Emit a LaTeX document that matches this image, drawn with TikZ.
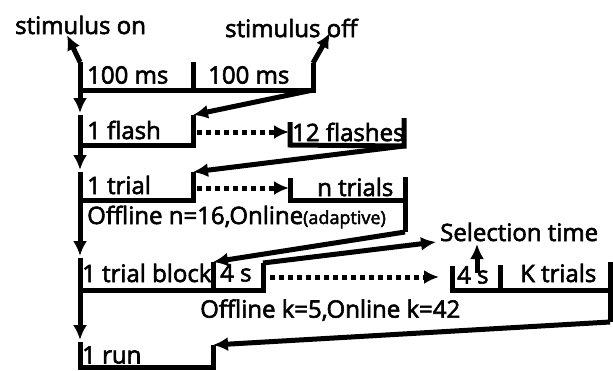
\documentclass[tikz,border=0pt]{standalone}
\usepackage{fontspec}
\setmainfont{Open Sans}[FakeBold=2.5]
\usetikzlibrary{arrows.meta, positioning}
\tikzset{
  lbl/.style = {anchor=west, inner sep=0pt, font=\fontsize{24}{27}\selectfont},
  edge/.style = {line width=5pt, line cap=butt, line join=miter},
  myarrow/.style = {edge, -{Latex[length=15pt,width=14pt]}},
  dotarrow/.style = {myarrow, dash pattern=on 5pt off 4pt},
}

\begin{document}
\begin{tikzpicture}[x=1pt, y=-1pt]
    \useasboundingbox (0,0) rectangle (613,370);

    % texts
    \node[lbl] (stimon)  at (15,25)  {stimulus on};
    \node[lbl] (stimoff) at (225,28) {stimulus off};
    \node[lbl] (onms)    at (87,75)  {100 ms};
    \node[lbl] (offms)   at (208,75) {100 ms};
    \node[lbl] (flash)   at (87,130) {1 flash};
    \node[lbl] (flashes) at (292,132) {12 flashes};
    \node[lbl] (trial)   at (87,185) {1 trial};
    \node[lbl] (trials)  at (317,187) {n trials};
    \node[lbl] (ntext)   at (87,217) {Offline n=16,Online{\fontsize{18}{20}\selectfont(adaptive)}};
    \node[lbl] (seltime) at (440,232) {Selection time};
    \node[lbl] (block)   at (82,273) {1 trial block};
    \node[lbl] (waitA)   at (220,273) {4 s};
    \node[lbl] (waitB)   at (457,275) {4 s};
    \node[lbl] (ktrials) at (520,273) {K trials};
    \node[lbl] (ktext)   at (200,310) {Offline k=5,Online k=42};
    \node[lbl] (run)     at (82,355) {1 run};

    % corners of the time bars
    \coordinate (s0) at (80,62);   \coordinate (s1) at (80,90);
    \coordinate (sm) at (193,62);  \coordinate (smb) at (193,90);
    \coordinate (s2) at (313,63);  \coordinate (s3) at (313,90);
    \coordinate (onTip) at (67,35);  \coordinate (offTip) at (330,33);

    \coordinate (f0) at (80,115);  \coordinate (f1) at (80,145);
    \coordinate (f2) at (193,115); \coordinate (f3) at (193,145);
    \coordinate (fd0) at (197,132); \coordinate (fd1) at (289,132);
    \coordinate (g0) at (290,122); \coordinate (g1) at (290,145);
    \coordinate (g2) at (404,118); \coordinate (g3) at (404,146);

    \coordinate (t0) at (80,172);  \coordinate (t1) at (80,200);
    \coordinate (t2) at (193,172); \coordinate (t3) at (193,200);
    \coordinate (td0) at (197,188); \coordinate (td1) at (289,188);
    \coordinate (n0) at (290,178); \coordinate (n1) at (290,200);
    \coordinate (n2) at (405,177); \coordinate (n3) at (405,200);
    \coordinate (n4) at (405,232);

    \coordinate (b0) at (80,258);  \coordinate (b1) at (80,290);
    \coordinate (bm) at (213,262); \coordinate (bmb) at (213,290);
    \coordinate (b2) at (263,263); \coordinate (b3) at (263,290);
    \coordinate (bd0) at (270,277); \coordinate (bd1) at (439,277);
    \coordinate (selTip) at (436,242);

    \coordinate (k0) at (452,266); \coordinate (k1) at (452,290);
    \coordinate (km) at (500,265); \coordinate (kmb) at (500,290);
    \coordinate (k2) at (610,262); \coordinate (k3) at (610,290);
    \coordinate (k4) at (610,322);
    \coordinate (ku0) at (477,273); \coordinate (ku1) at (477,244);

    \coordinate (r0) at (80,342);  \coordinate (r1) at (80,367);
    \coordinate (r2) at (213,345); \coordinate (r3) at (213,367);

    % bars
    \draw[edge] (s0) -- (s1) -- (s3) -- (s2);
    \draw[edge] (sm) -- (smb);
    \draw[edge] (f0) -- (f1) -- (f3) -- (f2);
    \draw[edge] (g0) -- (g1) -- (g3) -- (g2);
    \draw[edge] (t0) -- (t1) -- (t3) -- (t2);
    \draw[edge] (n0) -- (n1) -- (n3);
    \draw[edge] (n2) -- (n4);
    \draw[edge] (b0) -- (b1) -- (b3) -- (b2);
    \draw[edge] (bm) -- (bmb);
    \draw[edge] (k0) -- (k1) -- (k3);
    \draw[edge] (km) -- (kmb);
    \draw[edge] (k2) -- (k4);
    \draw[edge] (r0) -- (r1) -- (r3) -- (r2);

    % arrows
    \draw[myarrow] (s0) -- (onTip);
    \draw[myarrow] (s2) -- (offTip);
    \draw[myarrow, shorten >=2pt] (s1) -- (f0);
    \draw[myarrow, shorten >=2pt] (f1) -- (t0);
    \draw[myarrow, shorten >=2pt] (t1) -- (b0);
    \draw[myarrow, shorten >=2pt] (b1) -- (r0);
    \draw[myarrow] (s3) -- (f2);
    \draw[myarrow] (g3) -- (t2);
    \draw[myarrow] (n4) -- (bm);
    \draw[myarrow] (k4) -- (r2);
    \draw[myarrow] (b2) -- (selTip);
    \draw[myarrow] (ku0) -- (ku1);
    \draw[dotarrow] (fd0) -- (fd1);
    \draw[dotarrow] (td0) -- (td1);
    \draw[dotarrow] (bd0) -- (bd1);
\end{tikzpicture}
\end{document}
